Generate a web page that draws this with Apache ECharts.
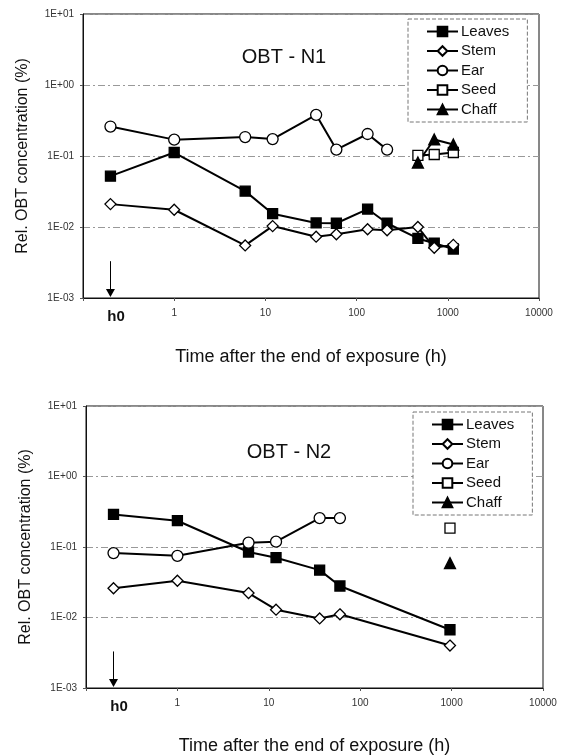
<!DOCTYPE html>
<html>
<head>
<meta charset="utf-8">
<title>OBT</title>
<script src="https://cdn.jsdelivr.net/npm/echarts@6/dist/echarts.min.js"></script>
<style>
html,body{margin:0;padding:0;background:#fff;}
#chart{width:568px;height:756px;}
</style>
</head>
<body>
<div id="chart"></div>
<script>
// tick labels
var xTicks = ['', '1', '10', '100', '1000', '10000'];
var yTicks = ['1E-03', '1E-02', '1E-01', '1E+00', '1E+01'];
var names = ['Leaves', 'Stem', 'Ear', 'Seed', 'Chaff'];

// N1
var n1Time = [0.2, 1, 6, 12, 36, 60, 132, 216, 470, 710, 1150];
var n1Leaves = [0.052, 0.112, 0.032, 0.0154, 0.0114, 0.0113, 0.0179, 0.0113, 0.0069, 0.0059, 0.0049];
var n1Stem = [0.021, 0.0175, 0.0055, 0.0103, 0.0073, 0.0079, 0.0093, 0.0090, 0.0100, 0.0051, 0.0056];
var n1EarTime = [0.2, 1, 6, 12, 36, 60, 132, 216];
var n1Ear = [0.26, 0.17, 0.185, 0.173, 0.38, 0.123, 0.204, 0.123];
var n1SeedTime = [470, 710, 1150];
var n1Seed = [0.102, 0.105, 0.112];
var n1Chaff = [0.081, 0.171, 0.145];

// N2
var n2Time = [0.2, 1, 6, 12, 36, 60, 960];
var n2Leaves = [0.29, 0.236, 0.085, 0.0705, 0.047, 0.028, 0.0067];
var n2Stem = [0.026, 0.0332, 0.0222, 0.0129, 0.0097, 0.0111, 0.0040];
var n2EarTime = [0.2, 1, 6, 12, 36, 60];
var n2Ear = [0.082, 0.075, 0.115, 0.119, 0.257, 0.257];
var n2SeedTime = [960];
var n2Seed = [0.185];
var n2Chaff = [0.059];

// h0 arrow + label
var hTime = 0.2;
var hLabelTime = 0.23;
var arrowTop = 0.0033;
var arrowTip = 0.00118;

var FONT = '"Liberation Sans", Arial, sans-serif';

function pairs(xs, ys){
    var out = [];
    for(var i=0;i<ys.length;i++){
        out.push([xs[i], ys[i]]);
    }
    return out;
}

function styleOf(name){
    var filled = (name == 'Leaves' || name == 'Chaff');
    var sym = {Leaves:'rect', Stem:'diamond', Ear:'circle', Seed:'rect', Chaff:'triangle'}[name];
    var size = {Leaves:10, Stem:11, Ear:11, Seed:10, Chaff:11}[name];
    return {
        symbol: sym,
        symbolSize: size,
        itemStyle: {
            color: filled ? '#000' : '#fff',
            borderColor: '#000',
            borderWidth: 1.3,
            opacity: 1
        }
    };
}

function makeSeries(name, idx, data, withArrow){
    var st = styleOf(name);
    var s = {
        name: name,
        type: 'line',
        xAxisIndex: idx,
        yAxisIndex: idx,
        data: data,
        symbol: st.symbol,
        symbolSize: st.symbolSize,
        showSymbol: true,
        showAllSymbol: true,
        itemStyle: st.itemStyle,
        lineStyle: {color: '#000', width: 2},
        emphasis: {disabled: true},
        animation: false
    };
    if(withArrow){
        s.markLine = {
            silent: true,
            animation: false,
            symbol: ['none', 'triangle'],
            symbolSize: [9, 8],
            label: {show: false},
            lineStyle: {color: '#000', width: 1, type: 'solid'},
            data: [[{coord: [hTime, arrowTop]}, {coord: [hTime, arrowTip]}]]
        };
    }
    return s;
}

function xAxisOf(idx, gap){
    return {
        type: 'log', gridIndex: idx, min: 0.1, max: 10000, logBase: 10,
        name: 'Time after the end of exposure (h)',
        nameLocation: 'middle', nameGap: gap,
        nameTextStyle: {fontFamily: FONT, fontSize: 18, color: '#111'},
        axisLine: {lineStyle: {color: '#111', width: 1}},
        axisTick: {show: true, length: 3, inside: false, lineStyle: {color: '#555'}},
        axisLabel: {
            fontFamily: FONT, fontSize: 10, color: '#333', margin: 10,
            formatter: function(v){
                var k = Math.round(Math.log10(v)) + 1;
                return xTicks[k] || '';
            }
        },
        splitLine: {show: false}
    };
}

function yAxisOf(idx){
    return {
        type: 'log', gridIndex: idx, min: 0.001, max: 10, logBase: 10,
        name: 'Rel. OBT concentration (%)',
        nameLocation: 'middle', nameGap: 52, nameRotate: 90,
        nameTextStyle: {fontFamily: FONT, fontSize: 16, color: '#111'},
        axisLine: {show: true, lineStyle: {color: '#111', width: 1}},
        axisTick: {show: true, length: 3, lineStyle: {color: '#555'}},
        axisLabel: {
            fontFamily: FONT, fontSize: 10, color: '#333', margin: 9,
            formatter: function(v){
                var k = Math.round(Math.log10(v)) + 3;
                return yTicks[k] || '';
            }
        },
        splitLine: {show: true, lineStyle: {color: '#999', width: 1, type: [7, 3, 2, 3]}}
    };
}

function legendOf(left, top){
    return {
        orient: 'vertical', left: left, top: top,
        data: names,
        itemWidth: 31, itemHeight: 12, itemGap: 4.5,
        padding: [5, 18, 5, 18],
        borderColor: '#777', borderWidth: 1, borderType: 'dashed',
        backgroundColor: '#fff',
        selectedMode: false,
        textStyle: {fontFamily: FONT, fontSize: 15, color: '#111', padding: [0, 0, 0, -2]}
    };
}

var myChart = echarts.init(document.getElementById('chart'), null, {renderer: 'canvas'});

myChart.setOption({
    backgroundColor: '#fff',
    animation: false,
    title: [
        {text: 'OBT - N1', left: 279, top: 42, textAlign: 'center',
         textStyle: {fontFamily: FONT, fontSize: 20, fontWeight: 'normal', color: '#111'}},
        {text: 'OBT - N2', left: 284, top: 437, textAlign: 'center',
         textStyle: {fontFamily: FONT, fontSize: 20, fontWeight: 'normal', color: '#111'}}
    ],
    legend: [legendOf(408, 19), legendOf(413, 412)],
    grid: [
        {left: 83, top: 14, width: 456, height: 284, show: true, borderColor: '#111', borderWidth: 1},
        {left: 86, top: 406, width: 457, height: 290, show: true, borderColor: '#111', borderWidth: 1}
    ],
    xAxis: [xAxisOf(0, 50), xAxisOf(1, 49)],
    yAxis: [yAxisOf(0), yAxisOf(1)],
    series: [
        makeSeries('Leaves', 0, pairs(n1Time, n1Leaves), true),
        makeSeries('Stem', 0, pairs(n1Time, n1Stem)),
        makeSeries('Ear', 0, pairs(n1EarTime, n1Ear)),
        makeSeries('Seed', 0, pairs(n1SeedTime, n1Seed)),
        makeSeries('Chaff', 0, pairs(n1SeedTime, n1Chaff)),
        makeSeries('Leaves', 1, pairs(n2Time, n2Leaves), true),
        makeSeries('Stem', 1, pairs(n2Time, n2Stem)),
        makeSeries('Ear', 1, pairs(n2EarTime, n2Ear)),
        makeSeries('Seed', 1, pairs(n2SeedTime, n2Seed)),
        makeSeries('Chaff', 1, pairs(n2SeedTime, n2Chaff))
    ]
});

// h0 label under the axis
var g = [];
for(var i=0;i<2;i++){
    var p = myChart.convertToPixel({gridIndex: i}, [hLabelTime, 0.001]);
    g.push({
        type: 'text', x: p[0], y: p[1] + 19,
        style: {text: 'h0', fontFamily: FONT, fontSize: 15, fontWeight: 'bold',
                fill: '#111', align: 'center', verticalAlign: 'middle'}
    });
}
myChart.setOption({graphic: g});
</script>
</body>
</html>
